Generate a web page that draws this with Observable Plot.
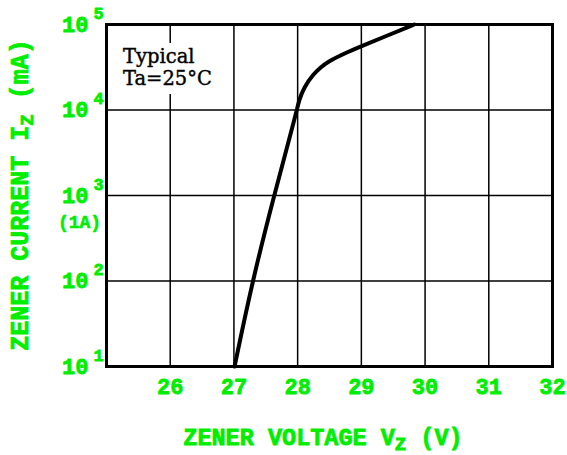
<!DOCTYPE html>
<html>
<head>
<meta charset="utf-8">
<script src="https://cdn.jsdelivr.net/npm/d3@7"></script>
<script src="https://cdn.jsdelivr.net/npm/@observablehq/plot@0.6"></script>
<style>
  html, body { margin: 0; padding: 0; background: #fff; }
</style>
</head>
<body>
<div id="chart"></div>
<script>
// Data
const vz = [27.01, 27.29, 27.63, 27.99, 28.02, 28.10, 28.25, 28.36, 28.46, 28.72, 28.99, 29.41, 29.83];
const iz = [10, 100, 1000, 10000, 12900, 18500, 26500, 31400, 36200, 45400, 55400, 74300, 100000];
const xTicks = [26, 27, 28, 29, 30, 31, 32];
const xGrid = [26, 27, 28, 29, 30, 31];
const yTicks = [10, 100, 1000, 10000, 100000];
const yExp = ["1", "2", "3", "4", "5"];
const yGrid = [100, 1000, 10000];

const green = "#00ee00";
const mono = "'Liberation Mono', 'DejaVu Sans Mono', monospace";
const curveData = vz.map((v, i) => ({v, i: iz[i]}));
const yTickData = yTicks.map((t, k) => ({t, e: yExp[k]}));

const labelStyle = {fill: green, stroke: green, strokeWidth: 0.8, fontWeight: "bold", fontFamily: mono};

const plot = Plot.plot({
  width: 567,
  height: 455,
  marginLeft: 106,
  marginRight: 15,
  marginTop: 24,
  marginBottom: 89,
  style: {background: "#fff", fontFamily: mono},
  x: {domain: [25, 32], axis: null},
  y: {type: "log", domain: [10, 100000], axis: null},
  marks: [
    Plot.ruleX(xGrid, {stroke: "#000", strokeWidth: 1.5}),
    Plot.ruleY(yGrid, {stroke: "#000", strokeWidth: 1.5}),
    Plot.frame({stroke: "#000", strokeWidth: 3}),
    Plot.line(curveData, {x: "v", y: "i", stroke: "#000", strokeWidth: 4, curve: "basis"}),
    // x tick labels
    Plot.text(xTicks, {x: d => d, frameAnchor: "bottom", dy: 27, text: d => String(d),
      fontSize: 22, ...labelStyle}),
    // y tick labels: "10" and exponent
    Plot.text(yTickData, {x: 25, y: "t", text: () => "10", textAnchor: "end", dx: -18, dy: 0,
      fontSize: 22, ...labelStyle}),
    Plot.text(yTickData, {x: 25, y: "t", text: "e", textAnchor: "start", dx: -13, dy: -11,
      fontSize: 17, ...labelStyle}),
    Plot.text(["(1A)"], {x: 25, y: 1000, text: d => d, textAnchor: "middle", dx: -27, dy: 27,
      fontSize: 18, ...labelStyle, strokeWidth: 0.6})
  ]
});

const svg = d3.select(plot);

// Note box "Typical Ta=25°C"
const note = svg.append("g").attr("text-anchor", "start");
note.append("rect").attr("x", 120).attr("y", 43).attr("width", 88).attr("height", 51).attr("fill", "#fff");
note.append("text").attr("x", 123).attr("y", 63).attr("text-anchor", "start")
  .attr("font-family", "'DejaVu Serif', serif").attr("font-size", 19.5).attr("fill", "#000")
  .attr("stroke", "#000").attr("stroke-width", 0.4).text("Typical");
note.append("text").attr("x", 123).attr("y", 85).attr("text-anchor", "start")
  .attr("font-family", "'DejaVu Serif', serif").attr("font-size", 19.5).attr("fill", "#000")
  .attr("stroke", "#000").attr("stroke-width", 0.4).text("Ta=25°C");

// X axis title
const xt = svg.append("text").attr("x", 323).attr("y", 445).attr("text-anchor", "middle")
  .attr("font-family", mono).attr("font-weight", "bold").attr("font-size", 23.5)
  .attr("fill", green).attr("stroke", green).attr("stroke-width", 0.8);
xt.append("tspan").text("ZENER VOLTAGE V");
xt.append("tspan").attr("dy", 5).attr("font-size", 19).text("Z");
xt.append("tspan").attr("dy", -5).text(" (V)");

// Y axis title
const yt = svg.append("text").attr("transform", "translate(28,195) rotate(-90)").attr("text-anchor", "middle")
  .attr("font-family", mono).attr("font-weight", "bold").attr("font-size", 25)
  .attr("fill", green).attr("stroke", green).attr("stroke-width", 0.8);
yt.append("tspan").text("ZENER CURRENT I");
yt.append("tspan").attr("dy", 5).attr("font-size", 19).text("Z");
yt.append("tspan").attr("dy", -5).text(" (mA)");

document.getElementById("chart").appendChild(plot);
</script>
</body>
</html>
